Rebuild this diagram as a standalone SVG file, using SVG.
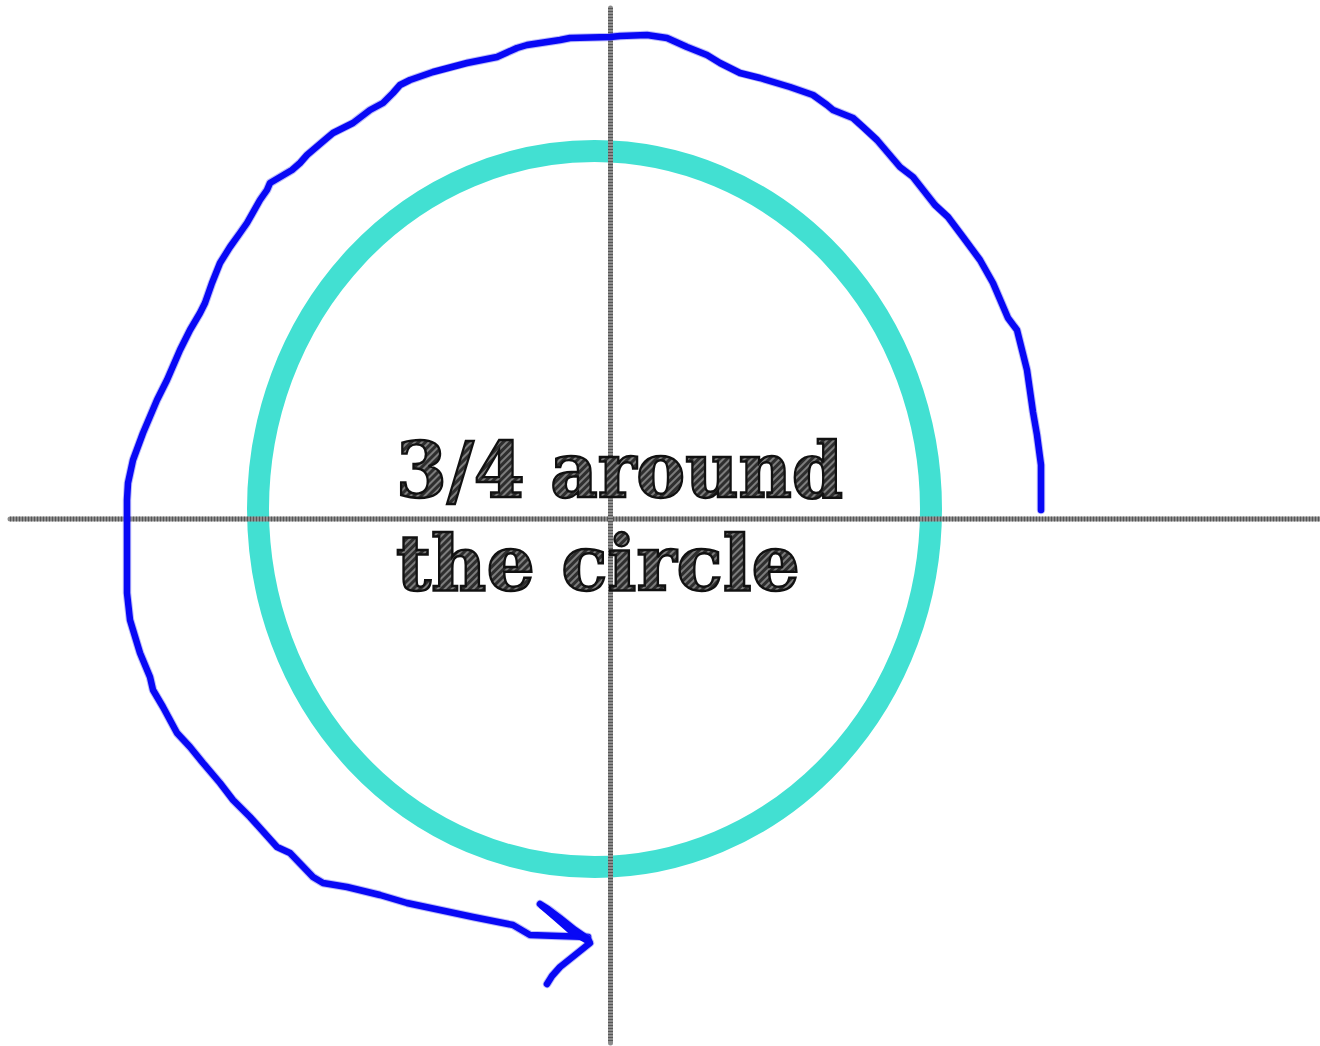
<svg xmlns="http://www.w3.org/2000/svg" width="1320" height="1046" viewBox="0 0 1320 1046">
<defs>
<pattern id="hatch" patternUnits="userSpaceOnUse" width="5" height="5" patternTransform="rotate(-45)">
<rect width="5" height="5" fill="#2e2e2e"/>
<line x1="0" y1="1" x2="5" y2="1" stroke="#bdbdbd" stroke-width="1.1"/>
</pattern>
<style>
.axis{stroke:#8c8c8c;stroke-width:5;stroke-linecap:round;fill:none}
.axisdots{stroke:#2c2c2c;stroke-width:5;stroke-dasharray:1 2;fill:none;opacity:0.55}
.ring{fill:none;stroke:#42e0d2;stroke-width:22}
.pen{fill:none;stroke:#0808f5;stroke-width:6.5;stroke-linecap:round;stroke-linejoin:round}
.penhalo{fill:none;stroke:#6a6af5;stroke-width:8.5;stroke-linecap:round;stroke-linejoin:round;opacity:0.45}
.label{font-family:"DejaVu Serif","Liberation Serif",serif;font-weight:bold;font-size:76px;fill:url(#hatch);stroke:#111;stroke-width:2.4;paint-order:fill}
</style>
</defs>
<g id="circle">
<ellipse class="ring" cx="594.5" cy="509" rx="336.5" ry="358"/>
</g>
<g id="axes">
<line class="axis" x1="10" y1="519" x2="1320" y2="519"/>
<line class="axisdots" x1="10" y1="519" x2="1320" y2="519"/>
<line class="axis" x1="610.5" y1="8" x2="610.5" y2="1043"/>
<line class="axisdots" x1="610.5" y1="8" x2="610.5" y2="1043"/>
</g>
<g id="label">
<text class="label" x="396" y="497" textLength="447" lengthAdjust="spacingAndGlyphs">3/4 around</text>
<text class="label" x="396" y="590" textLength="404" lengthAdjust="spacingAndGlyphs">the circle</text>
</g>
<g id="connectors">
<path class="penhalo" d="M1041,510 L1041,465 L1037,435 L1033,412 L1027,370 L1024,358 L1017,330 L1008,318 L993,283 L980,260 L963,237 L948,217 L935,205 L913,177 L900,167 L877,140 L863,127 L853,118 L833,110 L827,105 L813,95 L790,87 L760,78 L740,73 L720,63 L707,55 L687,47 L667,38 L647,35 L620,36 L610,37 L570,38 L560,40 L527,45 L517,48 L497,57 L467,63 L433,72 L410,80 L400,85 L393,93 L383,103 L370,110 L353,123 L333,133 L327,138 L307,155 L300,163 L292,170 L270,183 L267,190 L260,200 L247,223 L240,233 L230,247 L220,263 L212,283 L205,303 L200,313 L190,330 L180,350 L167,380 L157,400 L143,433 L133,460 L128,483 L127,500 L127,533 L127,593 L130,620 L140,653 L150,677 L153,690 L163,707 L177,733 L190,747 L203,763 L220,783 L233,800 L250,817 L277,847 L290,853 L313,877 L323,883 L347,887 L380,895 L407,903 L440,910 L473,917 L513,925 L530,935 L588,937"/>
<path class="pen" d="M1041,510 L1041,465 L1037,435 L1033,412 L1027,370 L1024,358 L1017,330 L1008,318 L993,283 L980,260 L963,237 L948,217 L935,205 L913,177 L900,167 L877,140 L863,127 L853,118 L833,110 L827,105 L813,95 L790,87 L760,78 L740,73 L720,63 L707,55 L687,47 L667,38 L647,35 L620,36 L610,37 L570,38 L560,40 L527,45 L517,48 L497,57 L467,63 L433,72 L410,80 L400,85 L393,93 L383,103 L370,110 L353,123 L333,133 L327,138 L307,155 L300,163 L292,170 L270,183 L267,190 L260,200 L247,223 L240,233 L230,247 L220,263 L212,283 L205,303 L200,313 L190,330 L180,350 L167,380 L157,400 L143,433 L133,460 L128,483 L127,500 L127,533 L127,593 L130,620 L140,653 L150,677 L153,690 L163,707 L177,733 L190,747 L203,763 L220,783 L233,800 L250,817 L277,847 L290,853 L313,877 L323,883 L347,887 L380,895 L407,903 L440,910 L473,917 L513,925 L530,935 L588,937"/>
<path class="penhalo" d="M540,904 L548,909 L560,918 L575,930 L588,939 L590,943 L575,955 L560,967 L552,976 L547,984"/>
<path class="pen" d="M540,904 L548,909 L560,918 L575,930 L588,939 L590,943 L575,955 L560,967 L552,976 L547,984"/>
<path class="pen" d="M542,906 L556,918 L572,932 L586,940"/>
</g>
</svg>
